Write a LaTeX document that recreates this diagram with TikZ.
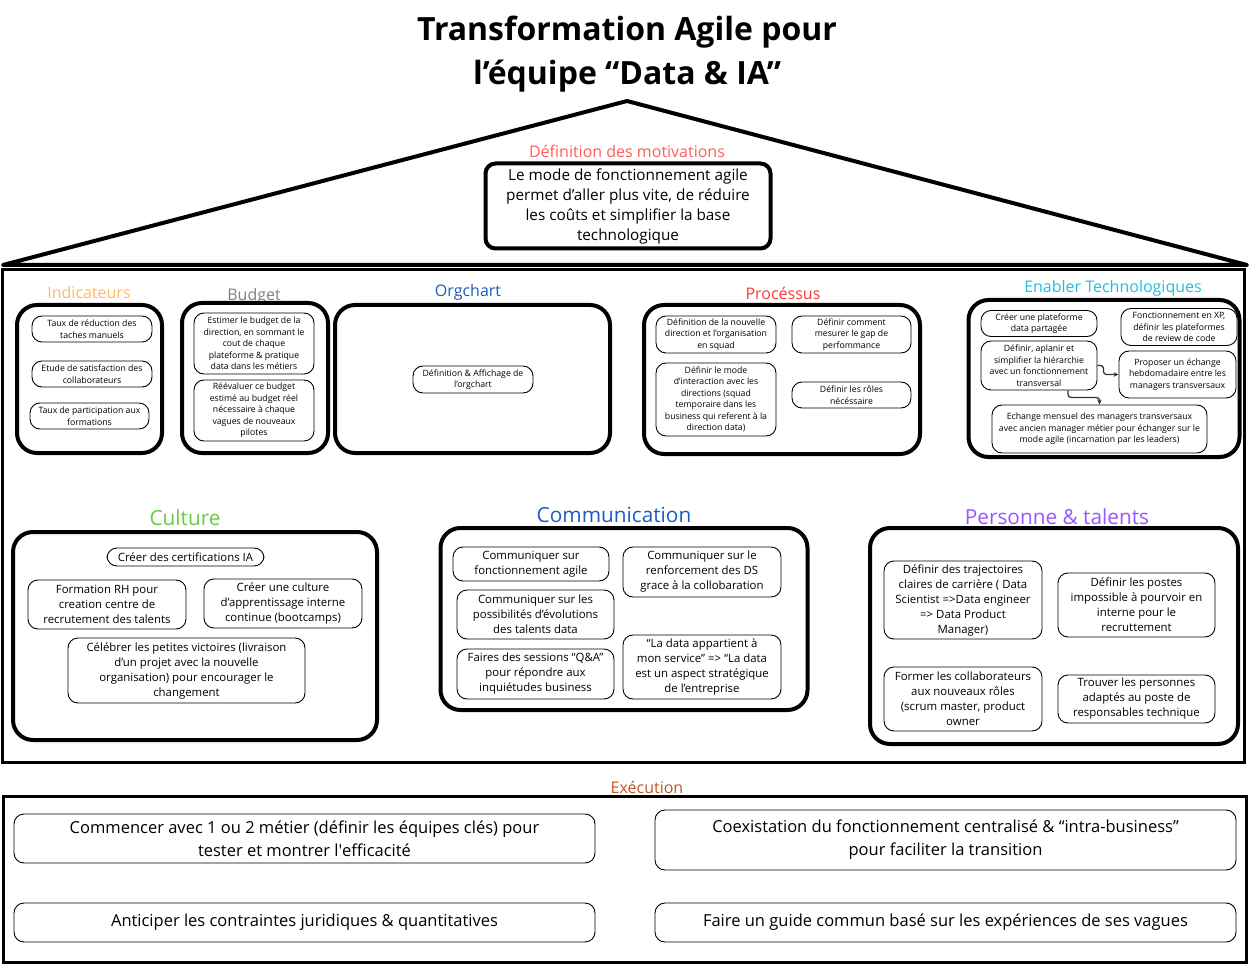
\documentclass[tikz,border=0pt]{standalone}
\usepackage{fontspec}
\setmainfont{Open Sans}
\usepackage[HTML]{xcolor}
\usepackage{tikz}
\usetikzlibrary{positioning, arrows.meta}

\definecolor{motcol}{HTML}{FF5C5C}
\definecolor{indcol}{HTML}{FFB866}
\definecolor{budcol}{HTML}{808080}
\definecolor{orgcol}{HTML}{1C5BBF}
\definecolor{procol}{HTML}{FF3838}
\definecolor{enacol}{HTML}{22BFDD}
\definecolor{culcol}{HTML}{66CC44}
\definecolor{percol}{HTML}{9955FF}
\definecolor{execol}{HTML}{C0561E}

\begin{document}
\begin{tikzpicture}[x=1pt, y=-1pt,
  sz/.style 2 args={minimum width=#1, minimum height=#2},
  pillar/.style={draw, line width=4pt, rounded corners=20pt},
  itembox/.style={draw, line width=0.9pt, rounded corners=10pt, align=center, inner sep=0pt},
  tinytxt/.style={font=\fontsize{8.7}{11.5}\selectfont},
  midtxt/.style={font=\fontsize{11.4}{15}\selectfont},
  bigtxt/.style={font=\fontsize{16.5}{23}\selectfont},
  toplabel/.style={font=\fontsize{16}{18}\selectfont},
  botlabel/.style={font=\fontsize{20.8}{24}\selectfont},
  arr/.style={-{Stealth[length=5pt,width=4.5pt]}, line width=1.3pt, draw=black!80, rounded corners=3pt}]
\useasboundingbox (0,0) rectangle (1250,965);

% Title
\node[font=\fontsize{32}{44}\selectfont\bfseries, align=center] (title) at (627,54) {Transformation Agile pour\\l’équipe “Data \& IA”};

% Roof
\coordinate (apex) at (627,101);
\coordinate (roofL) at (3,265);
\coordinate (roofR) at (1247,265);
\draw[line width=4pt, line join=round] (roofL) -- (apex) -- (roofR) -- cycle;

\node[toplabel, text=motcol] (motivlabel) at (627,151) {Définition des motivations};
\node[draw, line width=4pt, rounded corners=10pt, sz={285pt}{85pt}, align=center, inner sep=0pt,
  font=\fontsize{15.3}{20}\selectfont] (motiv) at (628,206) {Le mode de fonctionnement agile\\permet d’aller plus vite, de réduire\\les coûts et simplifier la base\\technologique};

% Main frame
\draw[line width=3pt] (2,270) rectangle (1244,762);

% Indicateurs
\node[toplabel, text=indcol] (indlabel) at (89,293) {Indicateurs};
\node[pillar, sz={145pt}{148pt}] (indbox) at (89.5,379) {};
\node[itembox, tinytxt, sz={120pt}{26pt}] (ind1) at (92,329) {Taux de réduction des\\taches manuels};
\node[itembox, tinytxt, sz={120pt}{26pt}] (ind2) at (92,374) {Etude de satisfaction des\\collaborateurs};
\node[itembox, tinytxt, sz={119pt}{26pt}] (ind3) at (89.5,416) {Taux de participation aux\\formations};

% Budget
\node[toplabel, text=budcol] (budlabel) at (254,296) {Budget};
\node[pillar, sz={146pt}{150pt}] (budbox) at (255,378) {};
\node[itembox, tinytxt, sz={120pt}{61pt}] (bud1) at (254,343.5) {Estimer le budget de la\\direction, en sommant le\\cout de chaque\\plateforme \& pratique\\data dans les métiers};
\node[itembox, tinytxt, sz={120pt}{61pt}] (bud2) at (254,410.5) {Réévaluer ce budget\\estimé au budget réel\\nécessaire à chaque\\vagues de nouveaux\\pilotes};

% Orgchart
\node[toplabel, text=orgcol] (orglabel) at (468,292) {Orgchart};
\node[pillar, sz={275pt}{148pt}] (orgbox) at (472.5,379) {};
\node[itembox, tinytxt, sz={120pt}{27pt}] (org1) at (473,379.5) {Définition \& Affichage de\\l’orgchart};

% Processus
\node[toplabel, text=procol] (prolabel) at (783,293) {Procéssus};
\node[pillar, sz={276pt}{149pt}] (probox) at (782,379.5) {};
\node[itembox, tinytxt, sz={120pt}{37pt}] (pro1) at (716,334.5) {Définition de la nouvelle\\direction et l’organisation\\en squad};
\node[itembox, tinytxt, sz={119pt}{37pt}] (pro2) at (851.5,334.5) {Définir comment\\mesurer le gap de\\perfommance};
\node[itembox, tinytxt, sz={120pt}{73pt}] (pro3) at (716,399.5) {Définir le mode\\d’interaction avec les\\directions (squad\\temporaire dans les\\business qui referent à la\\direction data)};
\node[itembox, tinytxt, sz={119pt}{26pt}] (pro4) at (851.5,395) {Définir les rôles\\nécéssaire};

% Enabler
\node[toplabel, text=enacol] (enalabel) at (1113,288) {Enabler Technologiques};
\node[pillar, sz={271pt}{157pt}] (enabox) at (1104,378.5) {};
\node[itembox, tinytxt, sz={116pt}{26pt}] (ena1) at (1039,323.5) {Créer une plateforme\\data partagée};
\node[itembox, tinytxt, sz={116pt}{37pt}] (ena2) at (1179,327) {Fonctionnement en XP,\\définir les plateformes\\de review de code};
\node[itembox, tinytxt, sz={116pt}{49pt}] (aplanir) at (1039,365.5) {Définir, aplanir et\\simplifier la hiérarchie\\avec un fonctionnement\\transversal};
\node[itembox, tinytxt, sz={117pt}{47pt}] (proposer) at (1177.5,374.5) {Proposer un échange\\hebdomadaire entre les\\managers transversaux};
\node[itembox, tinytxt, sz={215pt}{48pt}] (mensuel) at (1099.5,429) {Echange mensuel des managers transversaux\\avec ancien manager métier pour échanger sur le\\mode agile (incarnation par les leaders)};
\draw[arr] (aplanir.east) -- ++(6,0) |- (proposer.west);
\draw[arr] ([xshift=29pt]aplanir.south) -- ++(0,7) -| (mensuel.north);

% Culture
\node[botlabel, text=culcol] (cullabel) at (185,518) {Culture};
\node[pillar, sz={364pt}{208pt}] (culbox) at (195,636) {};
\node[itembox, midtxt, sz={157pt}{18pt}] (cul1) at (185.5,557) {Créer des certifications IA};
\node[itembox, midtxt, sz={158pt}{49pt}] (cul2) at (107,604.5) {Formation RH pour\\creation centre de\\recrutement des talents};
\node[itembox, midtxt, sz={158pt}{49pt}] (cul3) at (283,603.5) {Créer une culture\\d’apprentissage interne\\continue (bootcamps)};
\node[itembox, midtxt, sz={237pt}{65pt}] (cul4) at (186.5,670.5) {Célébrer les petites victoires (livraison\\d’un projet avec la nouvelle\\organisation) pour encourager le\\changement};

% Communication
\node[botlabel, text=orgcol] (comlabel) at (614,515) {Communication};
\node[pillar, sz={367pt}{182pt}] (combox) at (624,619) {};
\node[itembox, midtxt, sz={156pt}{34pt}] (com1) at (531,564) {Communiquer sur\\fonctionnement agile};
\node[itembox, midtxt, sz={158pt}{50pt}] (com2) at (702,572) {Communiquer sur le\\renforcement des DS\\grace à la collobaration};
\node[itembox, midtxt, sz={157pt}{49pt}] (com3) at (535.5,614.5) {Communiquer sur les\\possibilités d’évolutions\\des talents data};
\node[itembox, midtxt, sz={157pt}{50pt}] (com4) at (535.5,674) {Faires des sessions “Q\&A”\\pour répondre aux\\inquiétudes business};
\node[itembox, midtxt, sz={158pt}{64pt}] (com5) at (702,667) {“La data appartient à\\mon service” => “La data\\est un aspect stratégique\\de l’entreprise};

% Personne & talents
\node[botlabel, text=percol] (perlabel) at (1057,517) {Personne \& talents};
\node[pillar, sz={368pt}{216pt}] (perbox) at (1054,636) {};
\node[itembox, midtxt, sz={158pt}{78pt}] (per1) at (963,600) {Définir des trajectoires\\claires de carrière ( Data\\Scientist =>Data engineer\\=> Data Product\\Manager)};
\node[itembox, midtxt, sz={157pt}{64pt}] (per2) at (1136.5,605) {Définir les postes\\impossible à pourvoir en\\interne pour le\\recruttement};
\node[itembox, midtxt, sz={158pt}{64pt}] (per3) at (963,699) {Former les collaborateurs\\aux nouveaux rôles\\(scrum master, product\\owner};
\node[itembox, midtxt, sz={157pt}{48pt}] (per4) at (1136.5,699) {Trouver les personnes\\adaptés au poste de\\responsables technique};

% Execution
\node[toplabel, text=execol] (exelabel) at (647,787) {Exécution};
\draw[line width=3pt] (3,796) rectangle (1246,962);
\node[itembox, bigtxt, sz={581pt}{49pt}] (exe1) at (304.5,838.5) {Commencer avec 1 ou 2 métier (définir les équipes clés) pour\\tester et montrer l\textquotesingle efficacité};
\node[itembox, bigtxt, sz={581pt}{60pt}] (exe2) at (945.5,840) {Coexistation du fonctionnement centralisé \& “intra-business”\\pour faciliter la transition};
\node[itembox, bigtxt, sz={581pt}{39pt}] (exe3) at (304.5,922.5) {Anticiper les contraintes juridiques \& quantitatives};
\node[itembox, bigtxt, sz={581pt}{39pt}] (exe4) at (945.5,922.5) {Faire un guide commun basé sur les expériences de ses vagues};
\end{tikzpicture}
\end{document}
